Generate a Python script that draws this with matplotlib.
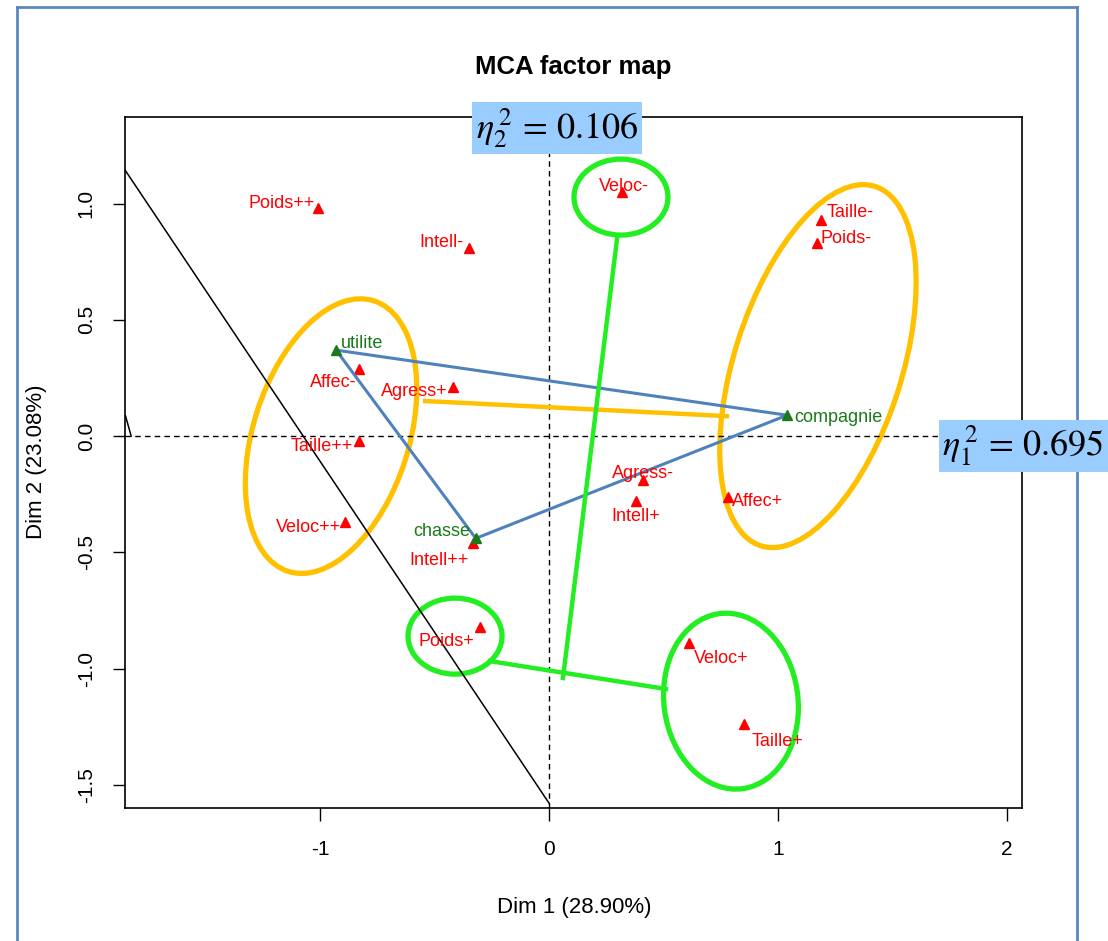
import matplotlib
matplotlib.use("Agg")
import matplotlib.pyplot as plt
from matplotlib.patches import Ellipse
from matplotlib.lines import Line2D

plt.rcParams["font.family"] = ["Liberation Sans", "DejaVu Sans"]
plt.rcParams["mathtext.fontset"] = "stix"

# category coordinates on the first two dimensions
modalities = ["Poids++", "Intell-", "Veloc-", "Taille-", "Poids-", "Affec-", "Agress+",
              "Taille++", "Agress-", "Affec+", "Intell+", "Veloc++", "Intell++",
              "Poids+", "Veloc+", "Taille+"]
mod_dim1 = [-1.01, -0.35, 0.32, 1.19, 1.17, -0.83, -0.42,
            -0.83, 0.41, 0.78, 0.38, -0.89, -0.33,
            -0.30, 0.61, 0.85]
mod_dim2 = [0.98, 0.81, 1.05, 0.93, 0.83, 0.29, 0.21,
            -0.02, -0.19, -0.26, -0.28, -0.37, -0.46,
            -0.82, -0.89, -1.24]

# supplementary variable (fonction)
sup_names = ["utilite", "compagnie", "chasse"]
sup_dim1 = [-0.93, 1.04, -0.32]
sup_dim2 = [0.37, 0.09, -0.44]

eta1 = 0.695
eta2 = 0.106

# label offsets in pixels (dx, dy)
mod_offsets = [(-36, 5), (-27, 5), (2, 6), (29, 7), (29, 5), (-26, -14), (-39, -4),
               (-37, -6), (0, 7), (30, -5), (0, -15), (-37, -5), (-34, -17),
               (-34, -15), (33, -16), (34, -17)]
sup_offsets = [(26, 7), (51, -2), (-34, 7)]

fig = plt.figure(figsize=(11.08, 9.41), dpi=100)
ax = fig.add_axes([125 / 1108, 1 - 808 / 941, 897 / 1108, 691 / 941])
ax.set_xlim(-1.852, 2.066)
ax.set_ylim(-1.60, 1.373)

ax.axhline(0, color="black", ls=(0, (4, 3)), lw=1)
ax.axvline(0, color="black", ls=(0, (4, 3)), lw=1)

# separating line
ax.plot([-1.852, 0.0], [1.145, -1.579], color="black", lw=1.1)
ax.plot([-1.850, -1.825], [0.088, 0.0], color="black", lw=1.1)

ax.plot(mod_dim1, mod_dim2, "^", color="red", ms=7, mec="red", ls="none")
for name, x, y, off in zip(modalities, mod_dim1, mod_dim2, mod_offsets):
    ax.annotate(name, (x, y), xytext=off, textcoords="offset pixels",
                ha="center", va="center", color="red", fontsize=13)

ax.plot(sup_dim1, sup_dim2, "^", color="#1a7a1a", ms=7, ls="none", zorder=4)
for name, x, y, off in zip(sup_names, sup_dim1, sup_dim2, sup_offsets):
    ax.annotate(name, (x, y), xytext=off, textcoords="offset pixels",
                ha="center", va="center", color="#1a7a1a", fontsize=13)

# triangle joining the supplementary categories
tri_x = sup_dim1 + [sup_dim1[0]]
tri_y = sup_dim2 + [sup_dim2[0]]
ax.plot(tri_x, tri_y, color="#4f81bd", lw=2.2)

# groupings
ox, oy = 229.0, 232.4  # pixels per unit
orange = "#ffc000"
green = "#22ee22"
groups = [
    ((331, 436), 280, 158, 72, orange),
    ((818, 366), 372, 170, 72, orange),
    ((621, 197), 94, 76, 0, green),
    ((455, 636), 94, 76, 0, green),
    ((731, 701), 174, 136, 98, green),
]
for (cx, cy), w, h, ang, col in groups:
    ax.add_patch(Ellipse(((cx - 549) / ox, (436 - cy) / oy), w / ox, h / oy,
                         angle=ang, fill=False, ec=col, lw=3.8))

ax.plot([-0.541, 0.777], [0.151, 0.086], color=orange, lw=3.2)
ax.plot([0.297, 0.061], [0.848, -1.041], color=green, lw=3.2)
ax.plot([-0.258, 0.511], [-0.968, -1.088], color=green, lw=3.2)

ax.set_xticks([-1, 0, 1, 2])
ax.set_yticks([-1.5, -1.0, -0.5, 0.0, 0.5, 1.0])
ax.set_xticklabels(["-1", "0", "1", "2"])
ax.set_yticklabels(["-1.5", "-1.0", "-0.5", "0.0", "0.5", "1.0"],
                   rotation=90, va="center")
ax.tick_params(length=9, width=1, labelsize=15)
ax.tick_params(axis="x", pad=14)
ax.tick_params(axis="y", pad=12)
for s in ax.spines.values():
    s.set_linewidth(1.2)

fig.text(573 / 1108, 1 - 67 / 941, "MCA factor map", ha="center", va="center",
         fontsize=18.5, fontweight="bold")
fig.text(574 / 1108, 1 - 907 / 941, "Dim 1 (28.90%)", ha="center", va="center",
         fontsize=16)
fig.text(37 / 1108, 1 - 462 / 941, "Dim 2 (23.08%)", ha="center", va="center",
         fontsize=16, rotation=90)

box = dict(boxstyle="square,pad=0.1", fc="#99ccff", ec="none")
fig.text(557 / 1108, 1 - 128 / 941, r"$\eta_2^{\,2}\,=\,%.3f$" % eta2, ha="center",
         va="center", fontsize=26, bbox=box, zorder=10)
fig.text(1104 / 1108, 1 - 446 / 941, r"$\eta_1^{\,2}\,=\,%.3f$" % eta1, ha="right",
         va="center", fontsize=26, bbox=box, zorder=10)

# outer frame
fc = "#5b87c0"
fig.add_artist(Line2D([16.5 / 1108, 16.5 / 1108], [0, 1 - 7 / 941], color=fc, lw=2))
fig.add_artist(Line2D([16.5 / 1108, 1077 / 1108], [1 - 7 / 941, 1 - 7 / 941], color=fc, lw=2))
fig.add_artist(Line2D([1077 / 1108, 1077 / 1108], [0, 1 - 7 / 941], color=fc, lw=2))

fig.savefig("out.png", dpi=100)
